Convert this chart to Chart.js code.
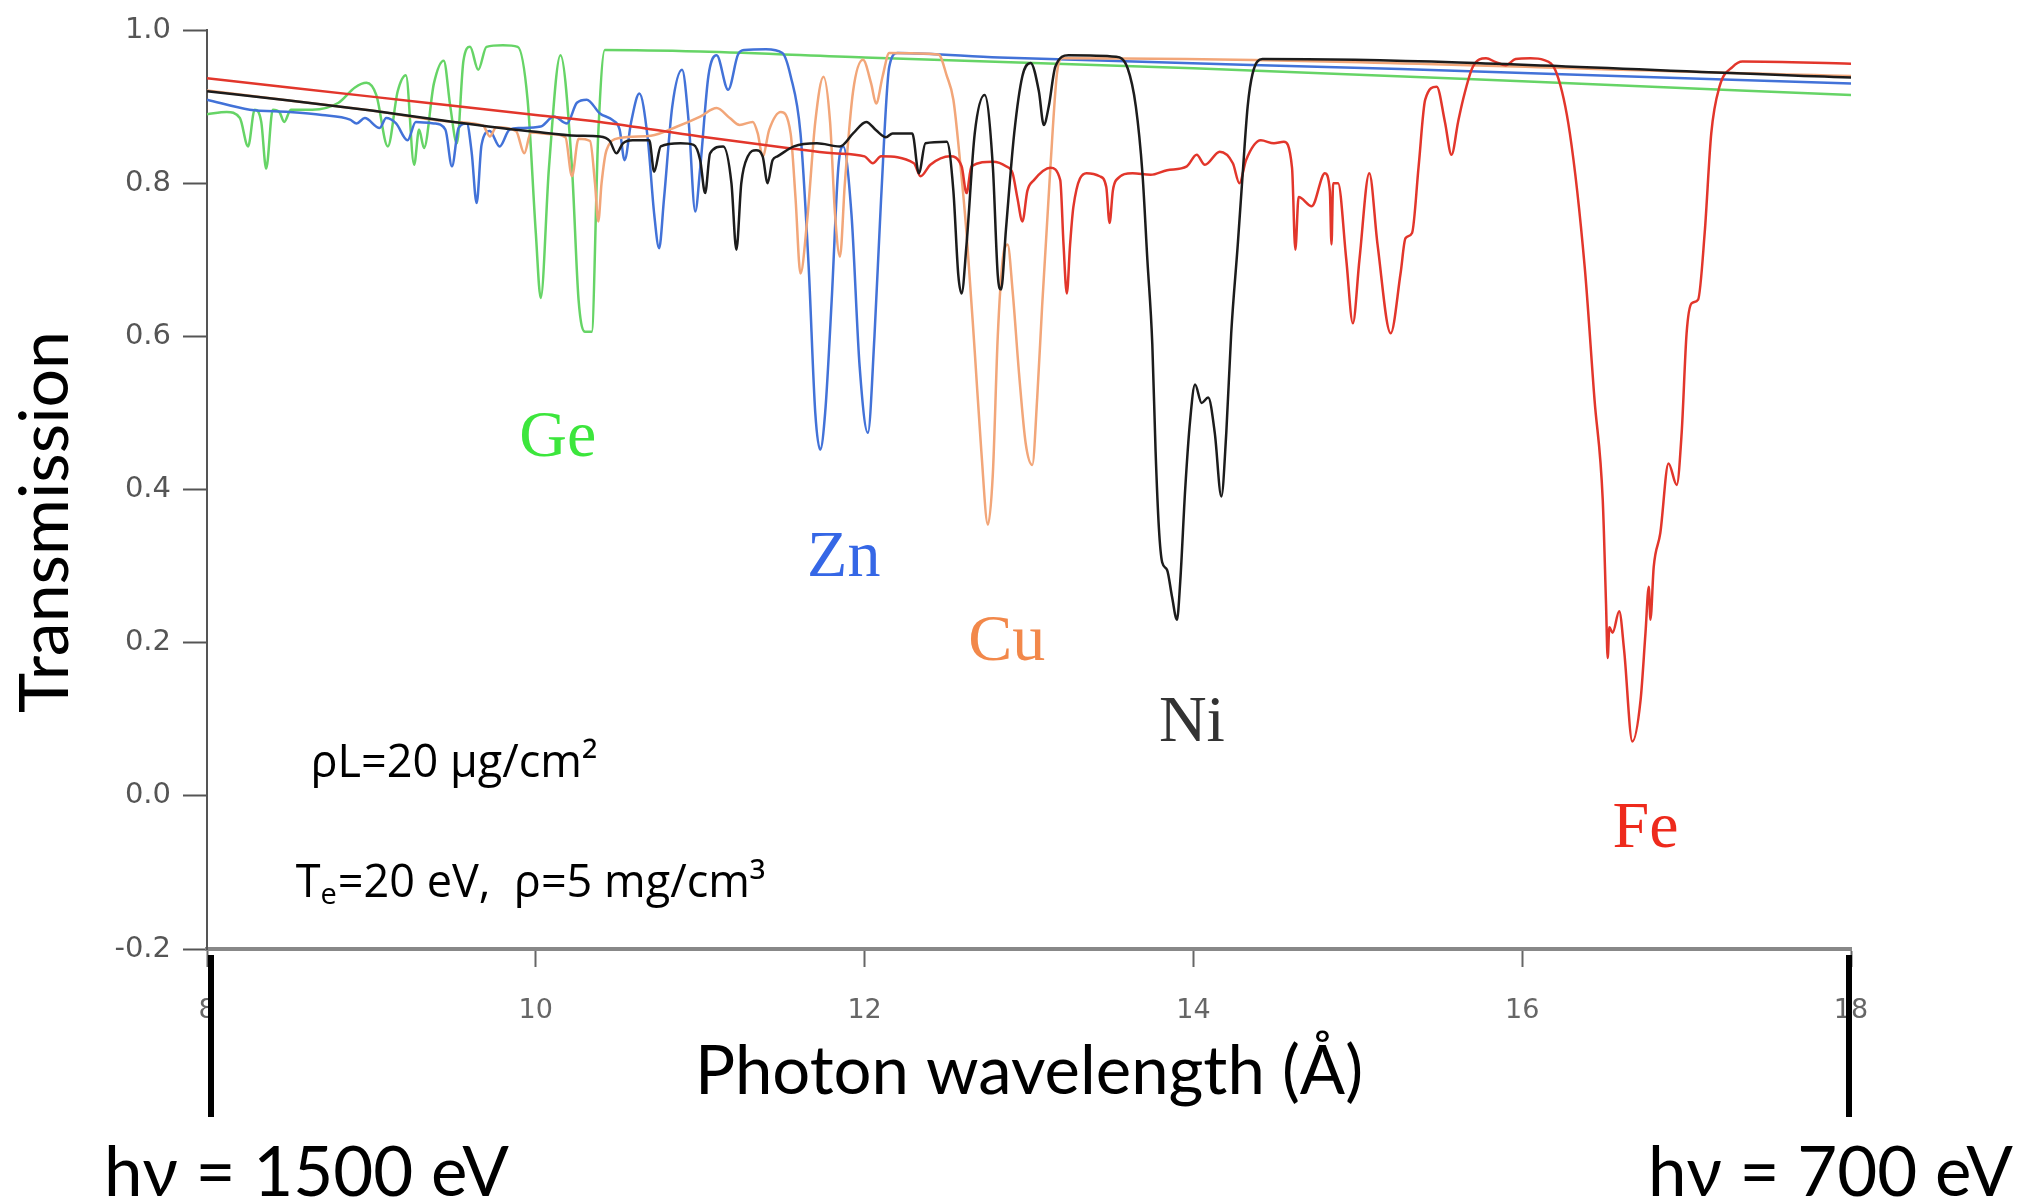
<!DOCTYPE html>
<html>
<head>
<meta charset="utf-8">
<title>Transmission</title>
<script src="https://cdn.jsdelivr.net/npm/chart.js@4.4.1/dist/chart.umd.min.js"></script>
<style>
  html, body { margin: 0; padding: 0; background: #fff; overflow: hidden; }
  canvas { display: block; }
</style>
</head>
<body>
<canvas id="grafico" width="2030" height="1201"></canvas>
<script>
// Transmission curves, [wavelength (Å), transmission]
var geData = [[8.00,0.890],[8.12,0.893],[8.20,0.885],[8.25,0.848],[8.29,0.896],[8.33,0.880],[8.36,0.819],[8.40,0.896],[8.44,0.893],[8.47,0.880],[8.51,0.896],[8.64,0.896],[8.80,0.905],[8.90,0.925],[8.97,0.931],[9.03,0.915],[9.10,0.848],[9.16,0.920],[9.21,0.941],[9.26,0.824],[9.29,0.870],[9.32,0.846],[9.38,0.930],[9.44,0.960],[9.48,0.900],[9.52,0.852],[9.56,0.960],[9.60,0.978],[9.65,0.948],[9.70,0.978],[9.80,0.980],[9.89,0.978],[9.95,0.909],[10.00,0.735],[10.03,0.650],[10.08,0.820],[10.15,0.967],[10.22,0.820],[10.26,0.648],[10.30,0.606],[10.34,0.606],[10.38,0.865],[10.42,0.974],[11.00,0.972],[12.00,0.964],[14.00,0.950],[16.00,0.933],[18.00,0.915]];

var znData = [[8.00,0.909],[8.26,0.896],[8.50,0.893],[8.70,0.889],[8.87,0.883],[8.91,0.878],[8.96,0.885],[9.05,0.872],[9.09,0.885],[9.15,0.878],[9.22,0.856],[9.27,0.880],[9.38,0.878],[9.45,0.870],[9.49,0.822],[9.53,0.872],[9.58,0.878],[9.61,0.840],[9.64,0.774],[9.67,0.850],[9.72,0.868],[9.78,0.848],[9.84,0.870],[9.90,0.872],[10.03,0.874],[10.11,0.887],[10.19,0.878],[10.25,0.905],[10.31,0.909],[10.39,0.891],[10.47,0.882],[10.51,0.870],[10.54,0.830],[10.58,0.880],[10.63,0.917],[10.68,0.860],[10.72,0.760],[10.75,0.715],[10.78,0.780],[10.83,0.900],[10.89,0.948],[10.93,0.880],[10.97,0.763],[11.00,0.820],[11.05,0.940],[11.10,0.967],[11.17,0.922],[11.23,0.968],[11.27,0.974],[11.40,0.975],[11.50,0.970],[11.55,0.940],[11.61,0.865],[11.66,0.690],[11.70,0.500],[11.73,0.452],[11.76,0.500],[11.80,0.648],[11.84,0.820],[11.87,0.848],[11.92,0.760],[11.97,0.560],[12.02,0.474],[12.06,0.600],[12.10,0.778],[12.15,0.952],[12.20,0.970],[12.82,0.964],[15.26,0.949],[18.00,0.930]];

var cuData = [[8.00,0.921],[8.50,0.908],[9.00,0.895],[9.50,0.880],[9.68,0.875],[9.72,0.861],[9.76,0.873],[9.88,0.868],[9.93,0.839],[9.97,0.866],[10.10,0.864],[10.18,0.860],[10.22,0.809],[10.26,0.858],[10.33,0.855],[10.36,0.800],[10.38,0.750],[10.40,0.800],[10.43,0.843],[10.51,0.859],[10.70,0.862],[10.86,0.874],[11.00,0.887],[11.10,0.898],[11.18,0.885],[11.24,0.876],[11.32,0.880],[11.35,0.865],[11.38,0.835],[11.42,0.870],[11.49,0.893],[11.55,0.865],[11.58,0.780],[11.61,0.682],[11.65,0.750],[11.70,0.880],[11.75,0.939],[11.79,0.880],[11.82,0.760],[11.85,0.704],[11.88,0.800],[11.93,0.920],[11.99,0.961],[12.04,0.930],[12.07,0.904],[12.11,0.940],[12.15,0.970],[12.45,0.968],[12.50,0.940],[12.54,0.909],[12.58,0.830],[12.62,0.735],[12.67,0.580],[12.71,0.450],[12.75,0.354],[12.78,0.420],[12.81,0.600],[12.84,0.700],[12.87,0.720],[12.90,0.660],[12.94,0.550],[12.98,0.460],[13.02,0.432],[13.05,0.520],[13.08,0.640],[13.13,0.820],[13.17,0.943],[13.20,0.963],[18.00,0.940]];

var niData = [[8.00,0.920],[8.50,0.908],[9.00,0.895],[9.50,0.880],[10.00,0.867],[10.25,0.862],[10.39,0.861],[10.45,0.855],[10.49,0.839],[10.53,0.852],[10.59,0.856],[10.69,0.856],[10.72,0.815],[10.76,0.848],[10.88,0.852],[10.96,0.850],[11.00,0.830],[11.03,0.787],[11.06,0.839],[11.14,0.848],[11.19,0.800],[11.22,0.713],[11.25,0.800],[11.29,0.835],[11.34,0.843],[11.38,0.835],[11.41,0.800],[11.44,0.830],[11.47,0.835],[11.57,0.848],[11.71,0.852],[11.85,0.848],[11.93,0.865],[12.01,0.880],[12.07,0.869],[12.13,0.860],[12.17,0.865],[12.29,0.865],[12.33,0.813],[12.37,0.852],[12.50,0.854],[12.54,0.790],[12.57,0.680],[12.59,0.656],[12.62,0.720],[12.67,0.865],[12.73,0.915],[12.78,0.822],[12.81,0.680],[12.83,0.661],[12.86,0.740],[12.91,0.865],[12.96,0.940],[13.01,0.957],[13.06,0.920],[13.09,0.876],[13.12,0.900],[13.16,0.952],[13.24,0.967],[13.53,0.965],[13.60,0.950],[13.65,0.900],[13.69,0.813],[13.72,0.700],[13.75,0.590],[13.77,0.450],[13.79,0.350],[13.81,0.305],[13.84,0.295],[13.87,0.260],[13.90,0.230],[13.92,0.280],[13.95,0.400],[13.98,0.490],[14.01,0.537],[14.05,0.513],[14.09,0.520],[14.13,0.474],[14.17,0.391],[14.20,0.474],[14.23,0.604],[14.27,0.720],[14.30,0.813],[14.33,0.900],[14.36,0.943],[14.42,0.962],[18.00,0.938]];

var feData = [[8.00,0.937],[9.00,0.913],[10.00,0.889],[10.39,0.880],[11.00,0.861],[11.53,0.846],[11.81,0.839],[12.00,0.835],[12.05,0.826],[12.10,0.835],[12.30,0.826],[12.34,0.809],[12.40,0.824],[12.52,0.835],[12.59,0.822],[12.62,0.787],[12.65,0.822],[12.78,0.828],[12.86,0.822],[12.90,0.813],[12.93,0.780],[12.96,0.750],[12.99,0.790],[13.03,0.804],[13.13,0.820],[13.19,0.804],[13.21,0.720],[13.23,0.656],[13.25,0.720],[13.27,0.769],[13.35,0.813],[13.43,0.809],[13.47,0.795],[13.49,0.748],[13.51,0.790],[13.53,0.804],[13.63,0.813],[13.74,0.811],[13.84,0.817],[13.96,0.822],[14.02,0.837],[14.07,0.824],[14.16,0.841],[14.24,0.826],[14.28,0.800],[14.32,0.830],[14.41,0.856],[14.49,0.852],[14.55,0.854],[14.60,0.820],[14.62,0.713],[14.64,0.782],[14.72,0.770],[14.80,0.813],[14.83,0.790],[14.84,0.720],[14.85,0.800],[14.88,0.800],[14.93,0.700],[14.97,0.617],[15.01,0.700],[15.07,0.813],[15.12,0.720],[15.20,0.604],[15.26,0.682],[15.29,0.728],[15.33,0.735],[15.37,0.822],[15.41,0.909],[15.48,0.926],[15.53,0.880],[15.57,0.837],[15.61,0.880],[15.64,0.909],[15.70,0.952],[15.78,0.963],[15.84,0.958],[15.90,0.954],[15.96,0.962],[16.05,0.963],[16.13,0.961],[16.21,0.943],[16.29,0.865],[16.38,0.691],[16.44,0.517],[16.49,0.386],[16.51,0.250],[16.52,0.180],[16.53,0.220],[16.55,0.213],[16.59,0.241],[16.62,0.190],[16.67,0.071],[16.72,0.125],[16.75,0.213],[16.77,0.273],[16.78,0.230],[16.80,0.299],[16.84,0.343],[16.89,0.434],[16.94,0.406],[16.97,0.474],[17.00,0.604],[17.03,0.643],[17.07,0.648],[17.11,0.735],[17.15,0.865],[17.20,0.926],[17.28,0.952],[17.34,0.959],[18.00,0.956]];

// Element names, drawn at these (wavelength, transmission) spots
var elementLabels = [
  { text: 'Ge', x: 9.90, y: 0.444, color: '#3ce63c' },
  { text: 'Zn', x: 11.65, y: 0.287, color: '#3567e6' },
  { text: 'Cu', x: 12.63, y: 0.178, color: '#f2884a' },
  { text: 'Ni', x: 13.79, y: 0.071, color: '#333333' },
  { text: 'Fe', x: 16.55, y: -0.067, color: '#ee2a1c' }
];

document.addEventListener('DOMContentLoaded', function() {
    var ctx = document.getElementById('grafico').getContext('2d');

    function toPoints(pairs) {
        return pairs.map(function(p) { return { x: p[0], y: p[1] }; });
    }

    function serie(label, pairs, color) {
        return {
            label: label,
            data: toPoints(pairs),
            borderColor: color,
            borderWidth: 2.5,
            pointRadius: 0,
            fill: false,
            cubicInterpolationMode: 'monotone'
        };
    }

    var sans = 'Lato, "Open Sans", sans-serif';
    var noteFont = '"Open Sans", Lato, sans-serif';

    // Extra text and the two energy markers below the axis
    var annotations = {
        id: 'annotations',
        afterDraw: function(chart) {
            var c = chart.ctx;
            var xs = chart.scales.x;
            var ys = chart.scales.y;
            var area = chart.chartArea;
            c.save();

            // thick black markers at 8 Å and 18 Å
            c.fillStyle = '#000';
            c.fillRect(xs.getPixelForValue(8) + 1, area.bottom + 6, 6, 162);
            c.fillRect(xs.getPixelForValue(18) - 5, area.bottom + 6, 6, 162);

            c.textBaseline = 'alphabetic';

            // axis titles
            c.font = '67px ' + sans;
            c.textAlign = 'center';
            c.fillText('Photon wavelength (Å)', (area.left + area.right) / 2, 1094);

            c.save();
            c.translate(68, 522);
            c.rotate(-Math.PI / 2);
            c.font = '68px ' + sans;
            c.fillText('Transmission', 0, 0);
            c.restore();

            // photon energies
            c.font = '69px ' + sans;
            c.textAlign = 'left';
            c.fillText('hν = 1500 eV', 104, 1196);
            c.textAlign = 'right';
            c.fillText('hν = 700 eV', 2013, 1196);

            // element names
            c.textAlign = 'left';
            c.font = '66px "Liberation Serif", "DejaVu Serif", serif';
            elementLabels.forEach(function(l) {
                c.fillStyle = l.color;
                c.fillText(l.text, xs.getPixelForValue(l.x), ys.getPixelForValue(l.y));
            });

            // sample conditions
            c.fillStyle = '#000';
            c.font = '45px ' + noteFont;
            c.fillText('ρL=20 µg/cm²', xs.getPixelForValue(8.63), ys.getPixelForValue(0.024));

            var px = xs.getPixelForValue(8.54);
            var py = ys.getPixelForValue(-0.132);
            c.fillText('T', px, py);
            px += c.measureText('T').width;
            c.font = '29px ' + noteFont;
            c.fillText('e', px, py + 7);
            px += c.measureText('e').width + 1;
            c.font = '45px ' + noteFont;
            c.fillText('=20 eV,  ρ=5 mg/cm³', px, py);

            c.restore();
        }
    };

    var tickFont = { family: '"DejaVu Sans", Verdana, sans-serif', size: 29 };

    var chart = new Chart(ctx, {
        type: 'line',
        data: {
            datasets: [
                serie('Ni', niData, '#1c1c1c'),
                serie('Fe', feData, '#e2362b'),
                serie('Cu', cuData, '#f2a679'),
                serie('Zn', znData, '#4272d8'),
                serie('Ge', geData, '#66d466')
            ]
        },
        options: {
            responsive: false,
            devicePixelRatio: 1,
            animation: false,
            layout: { padding: { left: 0, right: 179, top: 30, bottom: 0 } },
            plugins: {
                legend: { display: false },
                tooltip: { enabled: false }
            },
            scales: {
                x: {
                    type: 'linear',
                    min: 8,
                    max: 18,
                    ticks: {
                        stepSize: 2,
                        maxRotation: 0,
                        padding: 28,
                        color: '#666',
                        font: { family: '"DejaVu Sans", Verdana, sans-serif', size: 27 }
                    },
                    grid: { drawOnChartArea: false, tickLength: 18, tickWidth: 2, tickColor: '#666' },
                    border: { display: true, color: '#888', width: 4 },
                    afterFit: function(scale) { scale.height = 252; }
                },
                y: {
                    min: -0.2,
                    max: 1.0,
                    ticks: {
                        stepSize: 0.2,
                        padding: 12,
                        color: '#555',
                        font: tickFont,
                        callback: function(v) { return (Math.abs(v) < 1e-9 ? 0 : v).toFixed(1); }
                    },
                    grid: { drawOnChartArea: false, tickLength: 24, tickWidth: 2, tickColor: '#555' },
                    border: { display: true, color: '#555', width: 2 },
                    afterFit: function(scale) { scale.width = 207; }
                }
            }
        },
        plugins: [annotations]
    });
});
</script>
</body>
</html>
